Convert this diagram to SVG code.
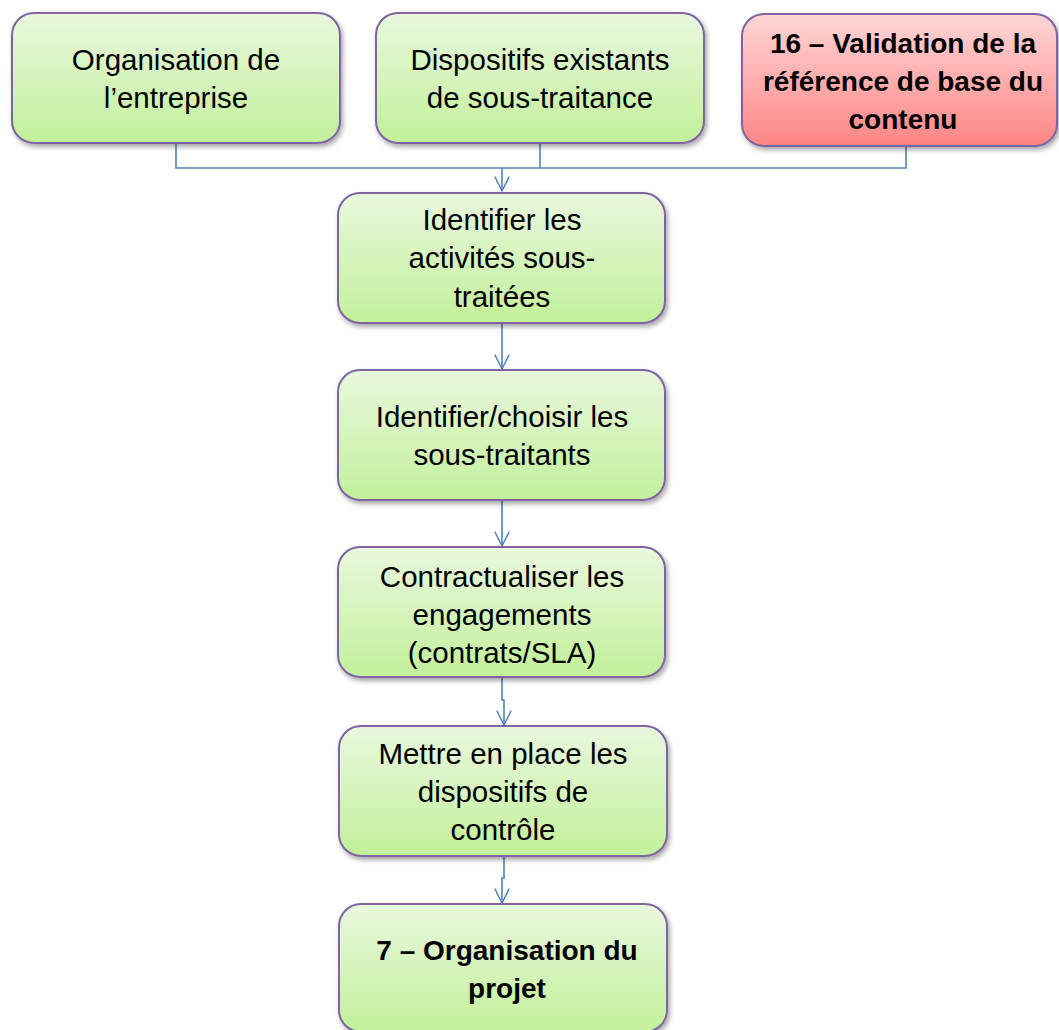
<svg xmlns="http://www.w3.org/2000/svg" width="1059" height="1030" viewBox="0 0 1059 1030">
<defs>
<linearGradient id="gG" x1="0" y1="0" x2="0" y2="1">
<stop offset="0" stop-color="#e9f8de"/>
<stop offset="1" stop-color="#c2f09a"/>
</linearGradient>
<linearGradient id="gR" x1="0" y1="0" x2="0" y2="1">
<stop offset="0" stop-color="#ffd6d6"/>
<stop offset="1" stop-color="#ff8585"/>
</linearGradient>
<filter id="sh" x="-10%" y="-10%" width="120%" height="130%">
<feDropShadow dx="2" dy="3" stdDeviation="2.5" flood-color="#000" flood-opacity="0.35"/>
</filter>
<marker id="arr" viewBox="0 0 20 20" refX="18" refY="10" markerWidth="18" markerHeight="18" markerUnits="userSpaceOnUse" orient="auto">
<path d="M2,2 L18,10 L2,18" fill="none" stroke="#4f81bd" stroke-width="1.6"/>
</marker>
</defs>
<style>
.box{fill:url(#gG);stroke:#8064a2;stroke-width:2;filter:url(#sh);}
.red{fill:url(#gR);}
.t{font-family:"Liberation Sans",Arial,sans-serif;font-size:29.5px;fill:#000;text-anchor:middle;}
.b{font-weight:bold;font-size:28px;}
.c{fill:none;stroke:#4f81bd;stroke-width:1.6;}
</style>
<g id="connectors">
<path class="c" d="M176,143 V168 H906 V146"/>
<path class="c" d="M540,143 V168"/>
<path class="c" d="M502,168 V191" marker-end="url(#arr)"/>
<path class="c" d="M502,323 V369" marker-end="url(#arr)"/>
<path class="c" d="M502,500 V546" marker-end="url(#arr)"/>
<path class="c" d="M502,677 V700 H504 V725" marker-end="url(#arr)"/>
<path class="c" d="M504,856 V878 H502 V903" marker-end="url(#arr)"/>
</g>
<g id="n1">
<rect class="box" x="12" y="13" width="328" height="130" rx="22"/>
<text class="t" x="176" y="70">Organisation de</text>
<text class="t" x="176" y="108">l’entreprise</text>
</g>
<g id="n2">
<rect class="box" x="376" y="13" width="328" height="130" rx="22"/>
<text class="t" x="540" y="70">Dispositifs existants</text>
<text class="t" x="540" y="108">de sous-traitance</text>
</g>
<g id="n3">
<rect class="box red" x="742" y="14" width="315" height="132" rx="22"/>
<text class="t b" x="903" y="53">16 – Validation de la</text>
<text class="t b" x="903" y="91">référence de base du</text>
<text class="t b" x="903" y="129">contenu</text>
</g>
<g id="n4">
<rect class="box" x="338" y="193" width="327" height="130" rx="22"/>
<text class="t" x="502" y="230">Identifier les</text>
<text class="t" x="502" y="268">activités sous-</text>
<text class="t" x="502" y="307">traitées</text>
</g>
<g id="n5">
<rect class="box" x="338" y="370" width="327" height="130" rx="22"/>
<text class="t" x="502" y="427">Identifier/choisir les</text>
<text class="t" x="502" y="465">sous-traitants</text>
</g>
<g id="n6">
<rect class="box" x="338" y="547" width="327" height="130" rx="22"/>
<text class="t" x="502" y="587">Contractualiser les</text>
<text class="t" x="502" y="625">engagements</text>
<text class="t" x="502" y="663">(contrats/SLA)</text>
</g>
<g id="n7">
<rect class="box" x="339" y="726" width="328" height="130" rx="22"/>
<text class="t" x="503" y="764">Mettre en place les</text>
<text class="t" x="503" y="802">dispositifs de</text>
<text class="t" x="503" y="840">contrôle</text>
</g>
<g id="n8">
<rect class="box" x="339" y="904" width="328" height="128" rx="22"/>
<text class="t b" x="507" y="960">7 – Organisation du</text>
<text class="t b" x="507" y="998">projet</text>
</g>
</svg>
